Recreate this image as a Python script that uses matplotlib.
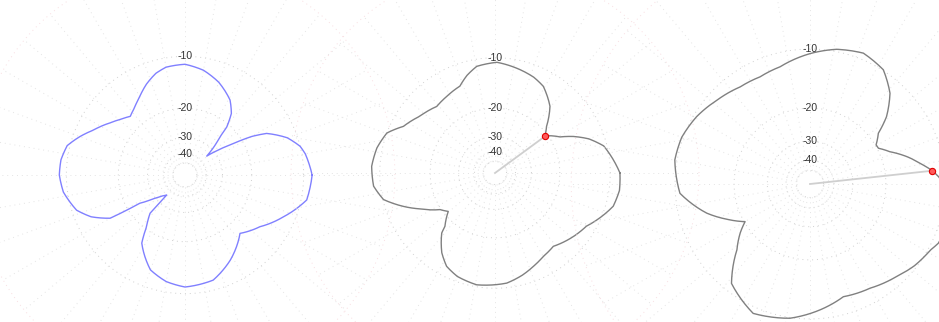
import numpy as np
import matplotlib
matplotlib.use("Agg")
import matplotlib.pyplot as plt

W, H = 939, 322

# gain patterns: angle in degrees (ccw from east), gain in dB
p1_deg = [0, 10, 14, 20, 27, 30, 33, 37, 41, 44, 47.5, 49, 53, 59, 70, 80, 90, 100, 106, 113,
          120, 127, 133, 139, 145, 154, 160, 166, 173, 180, 188, 198, 204, 210, 212, 216.8, 222,
          227.5, 227.6, 233.4, 237.6, 243.9, 250, 260, 270, 285, 298, 313.3, 325.4, 337, 348.4]
p1_db = [-8.8, -9.5, -10.0, -11.5, -14.5, -17.5, -22.5, -28.5, -34.6, -29.0, -24.4, -20.8, -17.5,
         -15.3, -13.2, -11.9, -11.2, -11.4, -12.0, -13.2, -14.7, -16.0, -16.8, -15.8, -14.6, -12.6,
         -11.0, -9.6, -9.1, -9.0, -9.4, -10.7, -12.5, -15.5, -23.9, -29.1, -33.1, -35.6, -24.4,
         -20.6, -16.7, -14.6, -12.8, -11.6, -11.0, -11.5, -13.6, -16.8, -14.6, -11.8, -9.2]

p2_deg = [0, 14, 20, 25, 29, 34.2, 36.3, 42.1, 50.5, 60.9, 68, 76.4, 89, 99.7, 106, 112, 122.2,
          131.2, 143, 153, 159.7, 168, 176.9, 186.2, 193.4, 200, 205.6, 213.7, 219.4, 226.8, 228.4,
          236.3, 242.6, 250, 260.7, 276.1, 285, 292.3, 300, 308.5, 321.1, 329.8, 344.3, 352]
p2_db = [-8.6, -10.5, -12.5, -15.0, -17.6, -19.6, -20.8, -18.8, -15.0, -12.6, -11.9, -11.4, -10.7,
         -11.1, -12.2, -13.6, -14.2, -14.6, -13.5, -12.0, -10.0, -9.2, -8.8, -9.0, -10.1, -12.9,
         -15.7, -19.7, -21.2, -17.9, -16.3, -13.2, -11.6, -10.8, -10.3, -10.7, -11.5, -12.3, -13.1,
         -13.6, -12.3, -11.5, -8.9, -8.5]

p3_deg = [0, 3.2, 6.2, 10, 15.8, 22, 27.6, 30.6, 36.6, 41.3, 48.6, 57.3, 67.8, 78.8, 90, 104.3,
          115, 125.7, 138, 149.3, 160, 169.9, 184.1, 195.8, 203, 210.1, 215, 222, 231.7, 246.3,
          261.5, 275, 286.5, 300, 313.1, 322, 331.2, 335.2, 345, 355]
p3_db = [-10.2, -10.8, -11.6, -13.0, -15.1, -17.8, -19.7, -19.8, -18.0, -14.9, -11.9, -9.9, -9.2,
         -9.7, -10.6, -11.9, -12.3, -12.1, -11.3, -10.4, -9.8, -9.7, -10.6, -14.0, -17.0, -20.2,
         -18.0, -15.5, -11.1, -9.2, -9.9, -11.2, -12.4, -12.0, -11.1, -10.3, -9.7, -9.2, -8.9, -9.5]

# selected direction on the 2nd and 3rd pattern
sel2 = (36.3, -20.8)
sel3 = (6.2, -11.6)

ring_db = [-50, -40, -30, -20, -10]
label_db = [-40, -30, -20, -10]
dots = (0, (1, 4))


def rad(db):
    # radial position of a dB value, 0 dB on the outer ring
    return 10 ** (np.asarray(db, dtype=float) / 40.0)


def polar_panel(fig, cx, cy, scale):
    ax = fig.add_axes([(cx - scale) / W, (H - cy - scale) / H, 2 * scale / W, 2 * scale / H],
                      projection="polar")
    ax.set_ylim(0, 1)
    ax.set_axis_off()
    t = np.linspace(0, 2 * np.pi, 721)
    for db in ring_db:
        ax.plot(t, np.full_like(t, rad(db)), color="#d0d0d0", lw=0.7, ls=dots)
    ax.plot(t, np.full_like(t, 0.995), color="#f8dde1", lw=0.7, ls=dots)
    for a in range(0, 360, 10):
        ax.plot([np.radians(a)] * 2, [rad(-50), 0.995], color="#e4e4e4", lw=0.7, ls=dots)
    for db in label_db:
        ax.text(np.pi / 2, rad(db), str(db), ha="center", va="center", fontsize=7.5,
                color="#333333", family="Liberation Sans")
    return ax


def draw_pattern(ax, deg, db, color):
    th = np.radians(np.append(deg, deg[0] + 360))
    r = rad(np.append(db, db[0]))
    ln, = ax.plot(th, r, color=color, lw=1.0, solid_joinstyle="round")
    # follow the polar grid between samples instead of straight chords
    ln.get_path()._interpolation_steps = 12


def draw_selection(ax, sel):
    th, r = np.radians(sel[0]), rad(sel[1])
    ax.plot([th, th], [0, r], color="#cfcfcf", lw=1.3)
    ax.plot(th, r, "o", ms=4.5, mfc="#ff5a5a", mec="#e00000", mew=0.8)


fig = plt.figure(figsize=(W / 100, H / 100), dpi=100)

ax1 = polar_panel(fig, 185, 175, 211)
draw_pattern(ax1, p1_deg, p1_db, "#8080ff")

ax2 = polar_panel(fig, 495, 173, 205)
draw_pattern(ax2, p2_deg, p2_db, "#808080")
draw_selection(ax2, sel2)

ax3 = polar_panel(fig, 810, 184, 240)
draw_pattern(ax3, p3_deg, p3_db, "#808080")
draw_selection(ax3, sel3)

fig.savefig("out.png", dpi=100)
